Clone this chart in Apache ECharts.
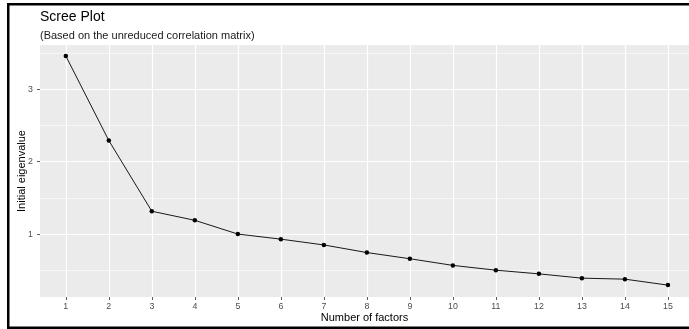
<!DOCTYPE html>
<html>
<head>
<meta charset="utf-8">
<script src="https://cdn.jsdelivr.net/npm/echarts@6/dist/echarts.min.js"></script>
<style>html,body{margin:0;padding:0;background:#fff}#c{width:689px;height:329px}</style>
</head>
<body>
<div id="c"></div>
<script>
const factors = [1,2,3,4,5,6,7,8,9,10,11,12,13,14,15];
const eigenvalues = [3.457, 2.29, 1.315, 1.19, 1.0, 0.93, 0.85, 0.745, 0.66, 0.568, 0.502, 0.451, 0.392, 0.378, 0.296];
const yTicks = [1, 2, 3];
const yMinorGrid = [0.5, 1.5, 2.5, 3.5];
const titleText = 'Scree Plot';
const subtitleText = '(Based on the unreduced correlation matrix)';
const xName = 'Number of factors';
const yName = 'Initial eigenvalue';

const chart = echarts.init(document.getElementById('c'), null, {renderer: 'canvas'});
const font = 'Liberation Sans, Arial, sans-serif';
const gridLine = (w) => ({color: '#ffffff', width: w, type: 'solid'});

chart.setOption({
  animation: false,
  backgroundColor: '#ffffff',
  title: {
    text: titleText,
    subtext: subtitleText,
    left: 35,
    top: 5,
    itemGap: 5,
    textStyle: {fontFamily: font, fontSize: 14, fontWeight: 'normal', color: '#000', lineHeight: 15},
    subtextStyle: {fontFamily: font, fontSize: 11, color: '#1a1a1a', lineHeight: 12}
  },
  grid: {
    left: 40, right: 0, top: 45, bottom: 32,
    show: true, backgroundColor: '#EBEBEB', borderWidth: 0,
    containLabel: false
  },
  xAxis: {
    type: 'value', min: 0.4, max: 15.49,
    name: xName, nameLocation: 'middle', nameGap: 15, nameMoveOverlap: false,
    nameTextStyle: {fontFamily: font, fontSize: 11, color: '#000'},
    axisLine: {show: false},
    axisTick: {show: true, customValues: factors, length: 3, lineStyle: {color: '#333', width: 0.8}},
    axisLabel: {customValues: factors, margin: 5, fontFamily: font, fontSize: 8.8, color: '#4D4D4D'},
    splitLine: {show: false}
  },
  yAxis: {
    type: 'value', min: 0.132, max: 3.608,
    name: yName, nameLocation: 'middle', nameGap: 13, nameRotate: 90, nameMoveOverlap: false,
    nameTextStyle: {fontFamily: font, fontSize: 11, color: '#000'},
    axisLine: {show: false},
    axisTick: {show: true, customValues: yTicks, length: 3, lineStyle: {color: '#333', width: 0.8}},
    axisLabel: {customValues: yTicks, margin: 7, fontFamily: font, fontSize: 8.8, color: '#4D4D4D'},
    splitLine: {show: false}
  },
  graphic: [
    {type: 'rect', shape: {x: 7, y: 3, width: 2.5, height: 325}, style: {fill: '#000'}, silent: true},
    {type: 'rect', shape: {x: 7, y: 3, width: 682, height: 2.5}, style: {fill: '#000'}, silent: true},
    {type: 'rect', shape: {x: 7, y: 326.5, width: 682, height: 2.5}, style: {fill: '#000'}, silent: true}
  ],
  series: [
    {
      type: 'line', data: [], z: 1, silent: true,
      markLine: {
        silent: true, symbol: 'none', z: 1, animation: false,
        label: {show: false},
        emphasis: {disabled: true},
        data: [
          ...yMinorGrid.map(v => ({yAxis: v, lineStyle: gridLine(0.6)})),
          ...yTicks.map(v => ({yAxis: v, lineStyle: gridLine(1.2)})),
          ...factors.map(v => ({xAxis: v, lineStyle: gridLine(1.2)}))
        ]
      }
    },
    {
      type: 'line', z: 5,
      data: factors.map((f, i) => [f, eigenvalues[i]]),
      lineStyle: {color: '#000', width: 0.9},
      symbol: 'circle', symbolSize: 4.5,
      itemStyle: {color: '#000'},
      emphasis: {disabled: true}
    }
  ]
});
</script>
</body>
</html>
